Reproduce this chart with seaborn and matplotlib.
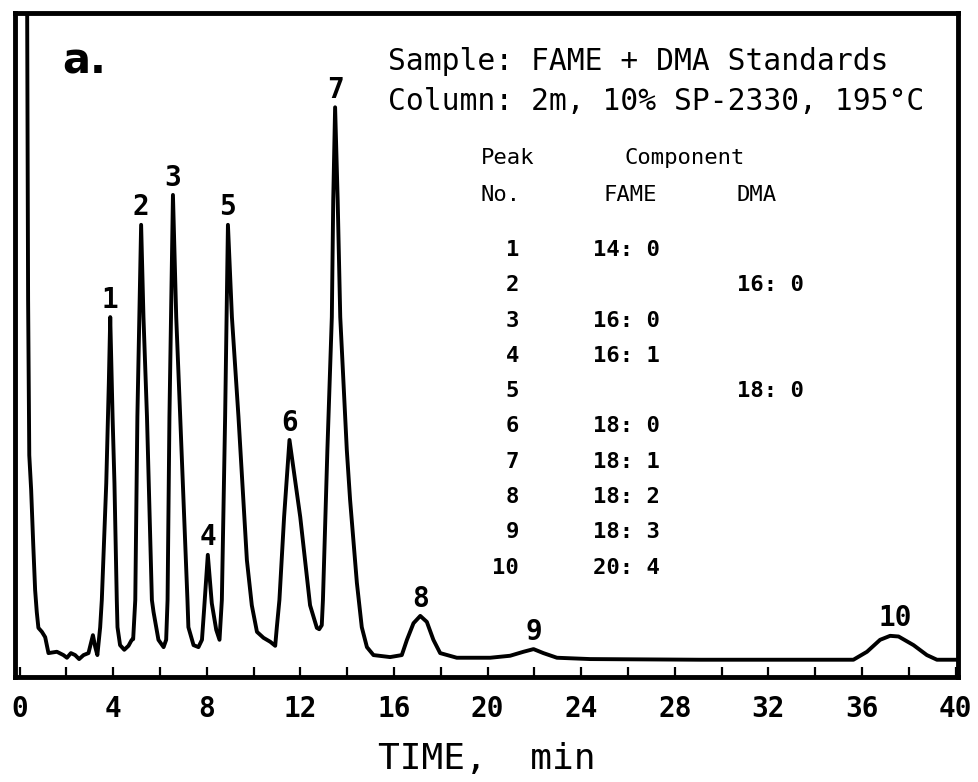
import matplotlib
matplotlib.use("Agg")
import matplotlib.pyplot as plt
from matplotlib.ticker import MultipleLocator
import pandas as pd
import seaborn as sns

# trace: time (min) vs detector signal (% of full scale)
time_min = [0.30, 0.32, 0.36, 0.41, 0.49, 0.58, 0.66, 0.73, 0.80, 0.95,
            1.09, 1.23, 1.59, 1.87, 2.02, 2.19, 2.37, 2.54, 2.73, 2.94,
            3.13, 3.23, 3.32, 3.44, 3.51, 3.70, 3.81, 3.87, 3.97, 4.05,
            4.15, 4.18, 4.29, 4.47, 4.65, 4.79, 4.85, 4.94, 5.03, 5.19,
            5.29, 5.44, 5.65, 5.72, 5.93, 6.15, 6.26, 6.32, 6.40, 6.55,
            6.69, 6.86, 7.17, 7.21, 7.43, 7.64, 7.79, 7.88, 8.04, 8.21,
            8.40, 8.54, 8.64, 8.78, 8.90, 9.07, 9.35, 9.71, 9.92, 10.14,
            10.42, 10.71, 10.92, 10.99, 11.10, 11.30, 11.53, 11.99, 12.41, 12.70,
            12.80, 12.91, 12.96, 13.15, 13.34, 13.40, 13.48, 13.59, 13.70, 13.98,
            14.12, 14.41, 14.62, 14.84, 15.12, 15.83, 16.33, 16.55, 16.83, 17.12,
            17.40, 17.68, 17.97, 18.68, 20.11, 20.96, 21.53, 21.96, 22.38, 22.96,
            24.38, 29.08, 35.63, 36.21, 36.77, 37.20, 37.56, 38.20, 38.77, 39.20,
            40.05]
signal = [105.0, 100.0, 56.8, 33.4, 28.2, 19.9, 13.1, 9.8, 7.4, 6.8,
          6.0, 3.6, 3.8, 3.3, 2.9, 3.6, 3.3, 2.7, 3.3, 3.6,
          6.3, 4.5, 3.3, 7.5, 11.6, 29.2, 44.3, 54.2, 39.2, 29.2,
          11.6, 7.5, 4.8, 4.1, 4.7, 5.6, 5.7, 11.6, 39.2, 68.1,
          54.2, 39.2, 11.6, 9.8, 5.6, 4.5, 5.6, 11.6, 39.2, 72.6,
          54.2, 39.2, 11.6, 7.5, 4.8, 4.5, 5.6, 10.1, 18.4, 11.1,
          7.1, 5.6, 11.6, 39.2, 68.1, 54.2, 39.2, 17.6, 10.8, 6.8,
          5.9, 5.3, 4.7, 7.5, 11.6, 24.1, 35.7, 24.1, 10.8, 7.4,
          7.2, 7.8, 11.6, 34.2, 54.2, 71.8, 85.8, 71.8, 54.2, 34.2,
          26.7, 14.2, 7.5, 4.5, 3.3, 3.0, 3.3, 5.6, 8.1, 9.2,
          8.3, 5.6, 3.6, 2.9, 2.9, 3.2, 3.8, 4.2, 3.6, 2.9,
          2.7, 2.6, 2.6, 3.8, 5.6, 6.2, 6.1, 4.8, 3.3, 2.6,
          2.6]

peak_labels = ["1", "2", "3", "4", "5", "6", "7", "8", "9", "10"]
peak_time = [3.87, 5.19, 6.55, 8.04, 8.90, 11.53, 13.48, 17.12, 21.96, 37.40]
peak_height = [54.2, 68.1, 72.6, 18.4, 68.1, 35.7, 85.8, 9.2, 4.2, 6.2]

fame = ["14: 0", "", "16: 0", "16: 1", "", "18: 0", "18: 1", "18: 2", "18: 3", "20: 4"]
dma = ["", "16: 0", "", "", "18: 0", "", "", "", "", ""]

sns.set_theme(style="white")
plt.rcParams['font.family'] = ['DejaVu Sans Mono', 'DejaVu Sans']
plt.rcParams['text.color'] = 'black'
plt.rcParams['axes.labelcolor'] = 'black'
plt.rcParams['xtick.color'] = 'black'

df = pd.DataFrame({'time': time_min, 'signal': signal})

fig = plt.figure(figsize=(9.79, 7.82), dpi=100)
ax = fig.add_axes([15 / 979, 105 / 782, 943 / 979, 664 / 782])

sns.lineplot(data=df, x='time', y='signal', ax=ax, color='black',
             linewidth=2.8, estimator=None, sort=False)

ax.set_xlim(-0.2, 40.1)
ax.set_ylim(0, 100)
ax.set_yticks([])
ax.set_ylabel('')
ax.xaxis.set_major_locator(MultipleLocator(4))
ax.xaxis.set_minor_locator(MultipleLocator(2))
ax.tick_params(axis='x', which='both', direction='in', length=7, width=1.6,
               bottom=True, top=False, color='black')
ax.tick_params(axis='x', which='major', pad=13, labelsize=20)
for lab in ax.get_xticklabels():
    lab.set_fontweight('bold')
for sp in ax.spines.values():
    sp.set_visible(True)
    sp.set_color('black')
    sp.set_linewidth(3.5)

ax.set_xlabel('TIME,  min', fontsize=26, labelpad=14)

# peak numbers
for lab, t, h in zip(peak_labels, peak_time, peak_height):
    ax.annotate(lab, (t, h), xytext=(0, 12.5), textcoords='offset points',
                ha='center', va='center', fontsize=20, fontweight='bold')


def px(x, y):
    # reference pixel position -> axes fraction
    return (x - 15) / 943, (677 - y) / 664


ax.text(*px(62, 61), 'a.', transform=ax.transAxes, fontsize=30,
        fontweight='bold', family='DejaVu Sans', va='center', ha='left')
ax.text(*px(388, 61), 'Sample: FAME + DMA Standards', transform=ax.transAxes,
        fontsize=21.3, va='center', ha='left')
ax.text(*px(388, 101), 'Column: 2m, 10% SP-2330, 195°C', transform=ax.transAxes,
        fontsize=21.3, va='center', ha='left')

hdr = dict(transform=ax.transAxes, fontsize=16, va='center', ha='left')
ax.text(*px(481, 158), 'Peak', **hdr)
ax.text(*px(624, 158), 'Component', **hdr)
ax.text(*px(481, 195), 'No.', **hdr)
ax.text(*px(604, 195), 'FAME', **hdr)
ax.text(*px(737, 195), 'DMA', **hdr)

for i in range(len(peak_labels)):
    yy = 250 + 35.3 * i
    ax.text(*px(519, yy), peak_labels[i], transform=ax.transAxes, fontsize=16,
            fontweight='bold', va='center', ha='right')
    ax.text(*px(593, yy), fame[i], transform=ax.transAxes, fontsize=16,
            fontweight='bold', va='center', ha='left')
    ax.text(*px(737, yy), dma[i], transform=ax.transAxes, fontsize=16,
            fontweight='bold', va='center', ha='left')

fig.savefig('out.png', dpi=100)
